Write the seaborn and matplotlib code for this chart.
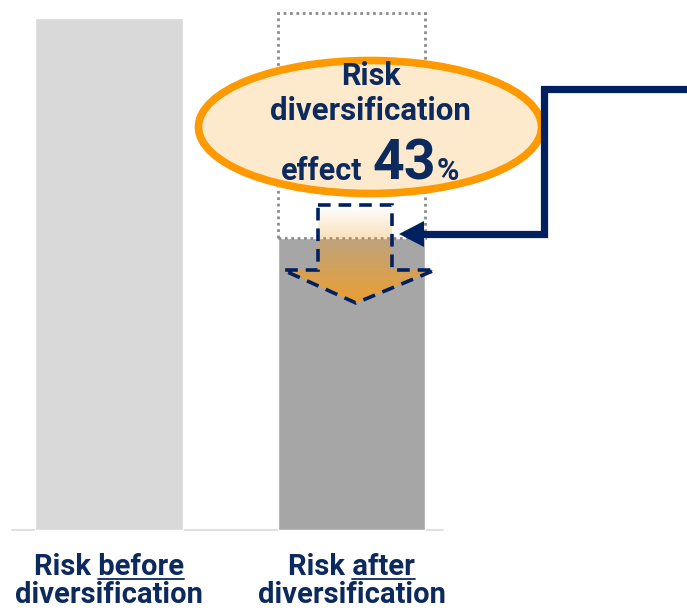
import numpy as np
import pandas as pd
import seaborn as sns
import matplotlib.pyplot as plt
from matplotlib.patches import Ellipse, Rectangle, Polygon

# data
stages = ["before", "after"]
risk = [100, 57]
bar_colors = ["#d9d9d9", "#a6a6a6"]
effect = round((1 - risk[1] / risk[0]) * 100)

navy = "#0d2a5e"
orange = "#ff9900"

sns.set_theme(style="white")
plt.rcParams["font.family"] = ["Roboto", "DejaVu Sans"]

fig = plt.figure(figsize=(6.87, 6.11), dpi=100)
ax = fig.add_axes([0, 0, 1, 1])

df = pd.DataFrame({"stage": stages, "risk": risk})
sns.barplot(data=df, x="stage", y="risk", hue="stage", palette=bar_colors,
            width=0.61, legend=False, ax=ax, saturation=1)

# pixel (top-left origin) -> data helpers for annotations
def px(x):
    return (x - 109) / 242.5

def py(y):
    return (530 - y) / 5.12

# baseline
ax.plot([px(12), px(443)], [0, 0], color="#d9d9d9", lw=1.2, zorder=0.5)

# dotted box = risk removed by diversification
bar2 = ax.patches[1]
ax.add_patch(Rectangle((bar2.get_x(), risk[1]), bar2.get_width(), risk[0] - risk[1] + 1,
                       fill=False, ec="#8c8c8c", lw=2, ls=(0, (1, 1.3)), zorder=3))

# ellipse callout
ax.add_patch(Ellipse((px(370), py(127)), 343 / 242.5, 133 / 5.12,
                     fc="#fde9cc", ec=orange, lw=5.5, zorder=4))

# dashed down arrow with gradient fill
arrow_px = [(318, 205), (392, 205), (392, 270), (435, 270), (356, 303), (283, 270), (318, 270)]
arrow_pts = [(px(x), py(y)) for x, y in arrow_px]
grad = np.zeros((100, 2, 4))
grad[..., 0] = 0.94
grad[..., 1] = 0.62
grad[..., 2] = 0.17
grad[..., 3] = np.linspace(0, 0.95, 100)[:, None]
img = ax.imshow(grad, extent=[px(283), px(435), py(303), py(205)], origin="upper",
                aspect="auto", zorder=5, interpolation="bilinear")
clip = Polygon(arrow_pts, closed=True, transform=ax.transData, fill=False, lw=0)
ax.add_patch(clip)
img.set_clip_path(clip)
ax.add_patch(Polygon(arrow_pts, closed=True, fill=False, ec="#002060", lw=2.6,
                     ls=(0, (3.5, 2.2)), joinstyle="miter", zorder=6))

# navy connector arrow
ax.plot([px(700), px(544), px(544), px(420)], [py(89), py(89), py(234), py(234)],
        color="#002060", lw=5.2, solid_joinstyle="miter", solid_capstyle="butt", zorder=7)
ax.add_patch(Polygon([(px(399), py(234)), (px(424), py(221)), (px(424), py(247))],
                     closed=True, fc="#002060", ec="none", zorder=7))

ax.set_xlim(px(0), px(687))
ax.set_ylim(py(611), py(0))
ax.axis("off")

# texts in ellipse
ax.text(px(371), py(85), "Risk", ha="center", va="baseline", fontsize=22,
        fontweight="bold", color=navy, zorder=8)
ax.text(px(370), py(120), "diversification", ha="center", va="baseline", fontsize=22.5,
        fontweight="bold", color=navy, zorder=8)

renderer = fig.canvas.get_renderer()
inv = ax.transData.inverted()
parts = [("effect ", 22), (f"{effect}", 40), ("%", 22)]
objs = []
for s, fs in parts:
    t = ax.text(0, py(180), s.strip(), ha="left", va="baseline", fontsize=fs,
                fontweight="bold", color=navy, zorder=8)
    objs.append(t)
widths = [t.get_window_extent(renderer).width for t in objs]
gap = 10
total = sum(widths) + gap + 1
cur = 370 - total / 2
for i, t in enumerate(objs):
    t.set_x(px(cur))
    cur += widths[i] + (gap if i == 0 else 1)

# category labels with underlined word
for i, stage in enumerate(stages):
    cx = ax.patches[i].get_x() + ax.patches[i].get_width() / 2
    t1 = ax.text(cx, py(575), f"Risk {stage}", ha="center", va="baseline", fontsize=21,
                 fontweight="bold", color=navy)
    ax.text(cx, py(603), "diversification", ha="center", va="baseline", fontsize=21,
            fontweight="bold", color=navy)
    tw = ax.text(0, 0, stage, fontsize=21, fontweight="bold")
    w = tw.get_window_extent(renderer).width
    tw.remove()
    bb = t1.get_window_extent(renderer)
    xa = inv.transform((bb.x1 - w, 0))[0]
    xb = inv.transform((bb.x1, 0))[0]
    ax.plot([xa, xb], [py(579), py(579)], color=navy, lw=1.3)

ax.set_xlim(px(0), px(687))
ax.set_ylim(py(611), py(0))
fig.savefig("out.png", dpi=100)
